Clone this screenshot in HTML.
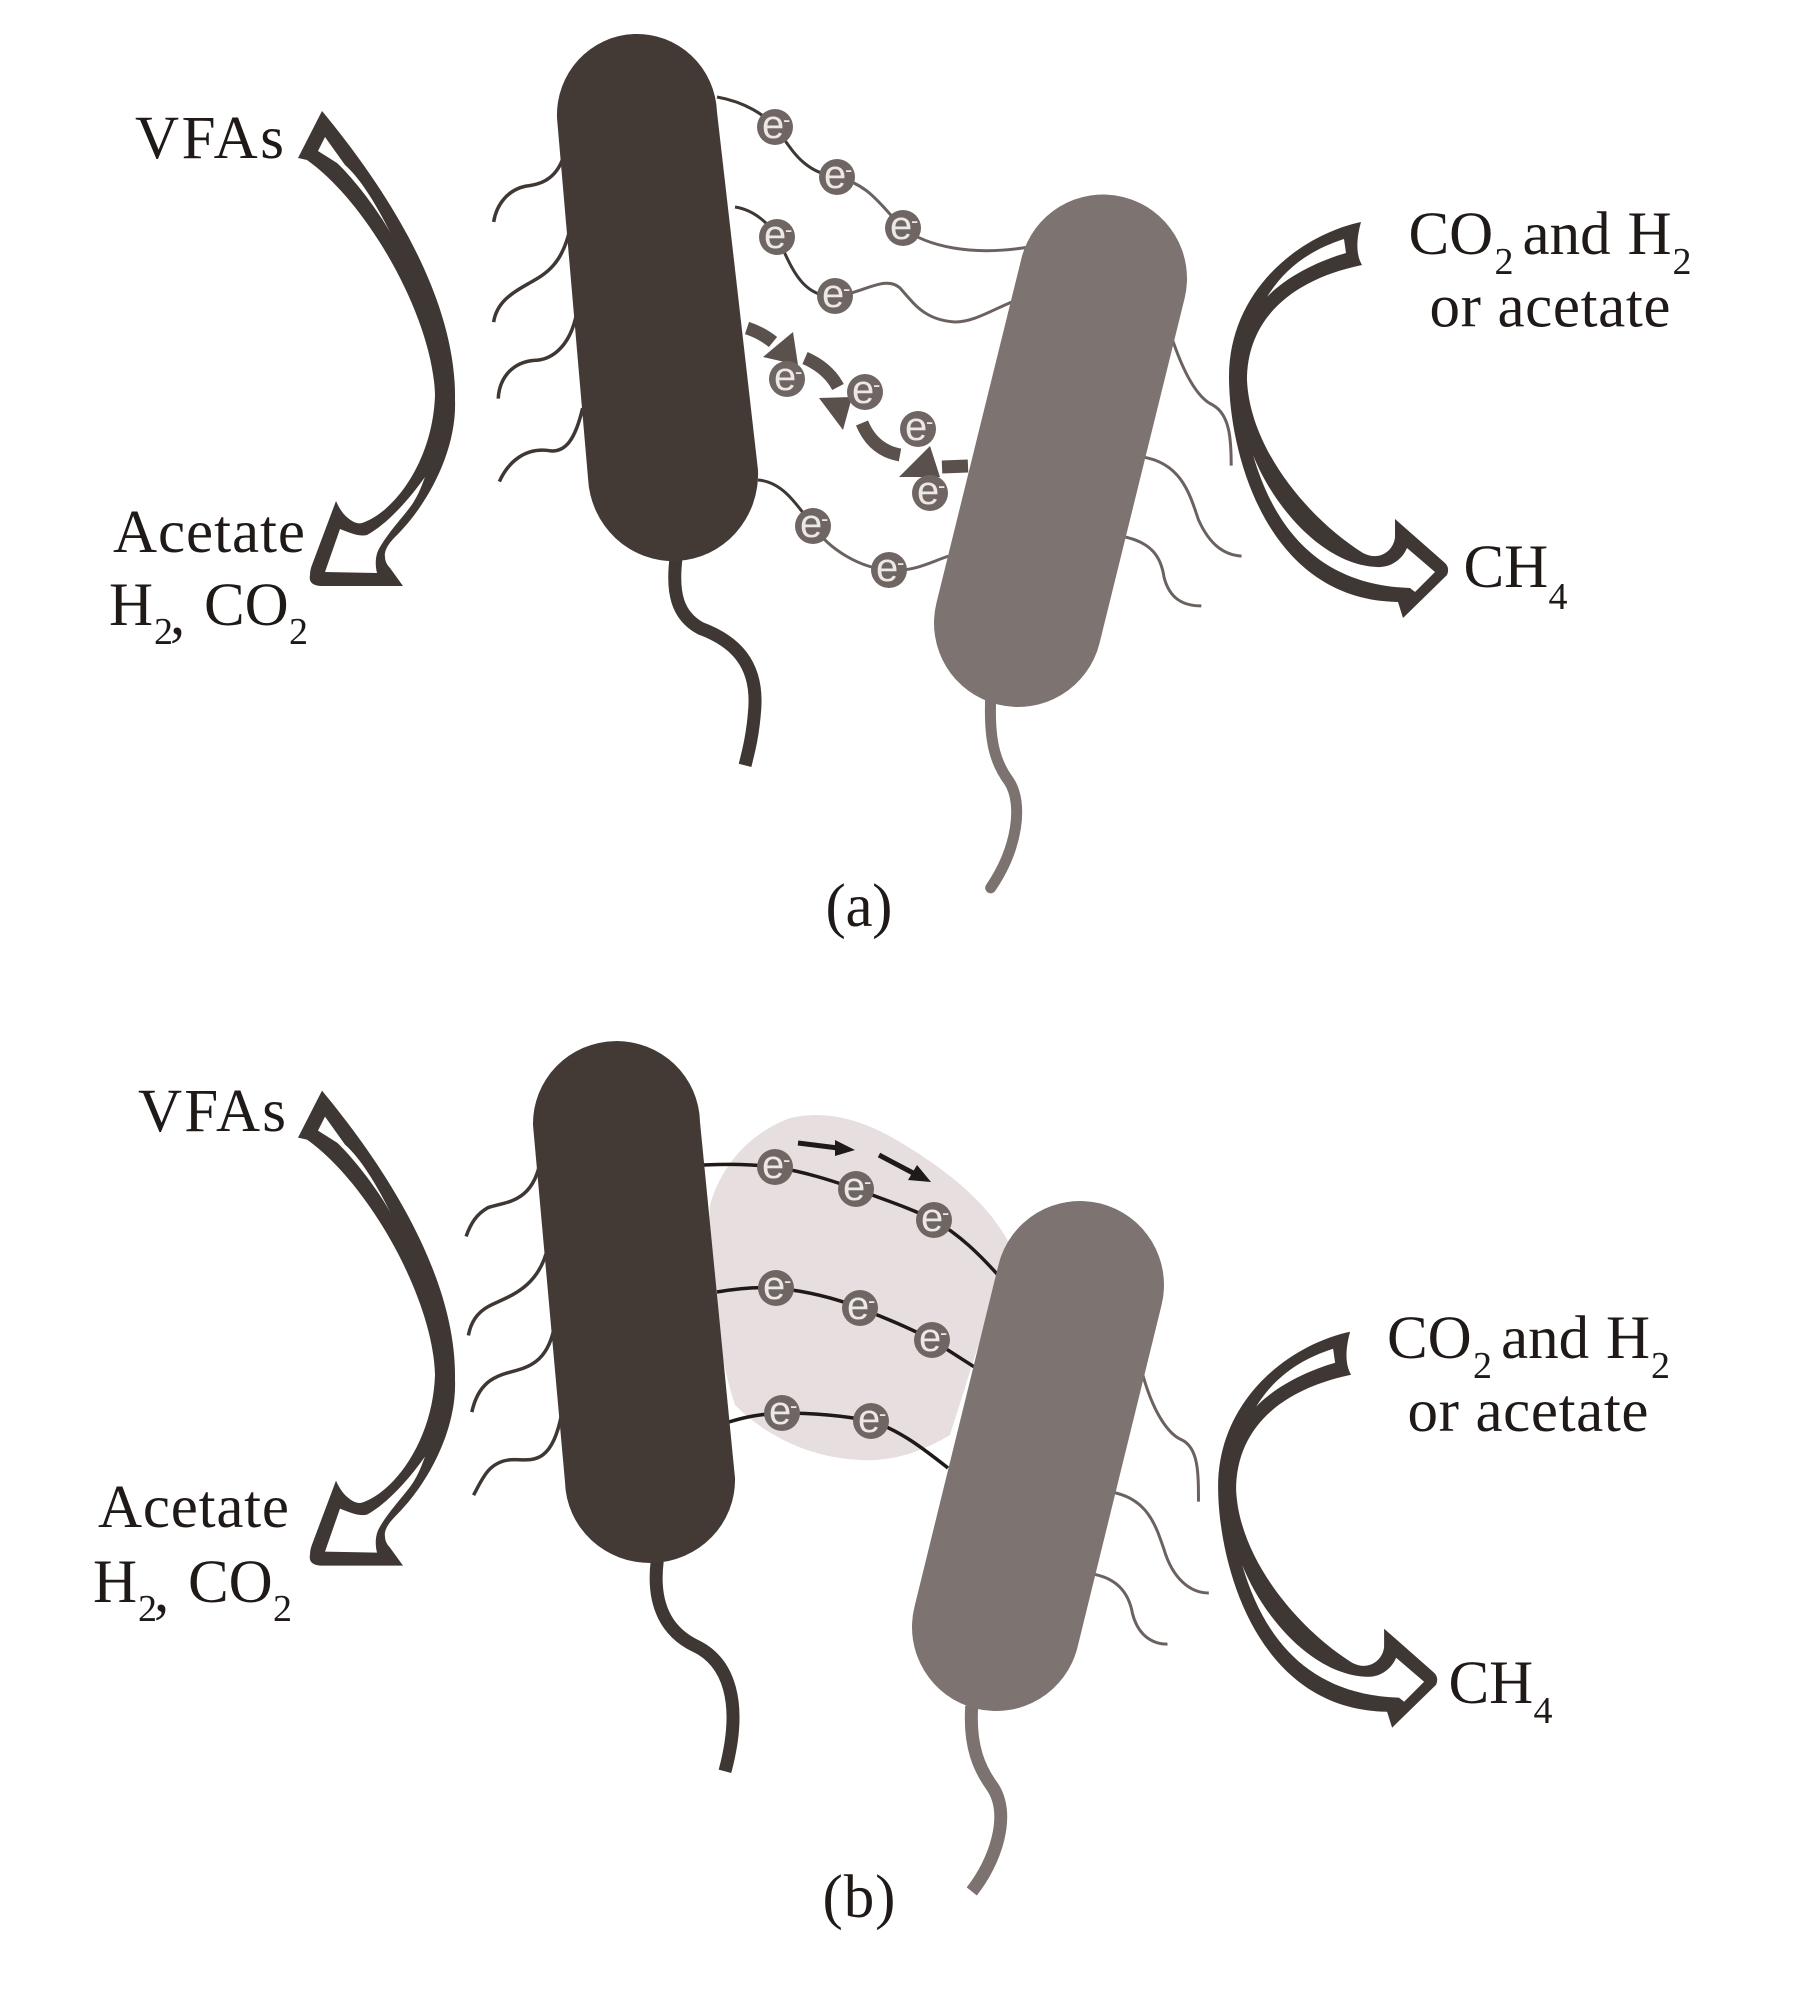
<!DOCTYPE html>
<html><head><meta charset="utf-8"><style>
html,body{margin:0;padding:0;background:#fff}
svg{display:block}
text{font-family:"Liberation Serif",serif;font-size:61px;fill:#1f1a17}
.s{font-size:38px}
.e{font-family:"Liberation Sans",sans-serif;font-size:40px;fill:#ece8e6}
.m{font-family:"Liberation Sans",sans-serif;font-size:22px;fill:#ece8e6}
path.h{fill:none;vector-effect:non-scaling-stroke}
</style></head><body>
<svg xmlns="http://www.w3.org/2000/svg" width="1800" height="2002" viewBox="0 0 1800 2002">
<rect width="1800" height="2002" fill="#fff"/>

<!-- blob -->
<path d="M710,1205 C720,1170 745,1135 790,1118 C825,1110 860,1118 900,1142 C950,1172 990,1205 1010,1245 L950,1435 C925,1450 895,1462 860,1460 C815,1458 770,1440 735,1405 C720,1360 705,1270 710,1205 Z" fill="#e7dfdf"/>

<!-- tails and flagella panel a -->
<g transform="scale(.574,.6378)" fill="none">
<path class="h" stroke="#3f3733" stroke-width="13" d="M1178,873 C1170,930 1180,965 1220,985 C1280,1005 1320,1040 1315,1110 C1312,1150 1305,1175 1298,1200"/>
<g stroke="#3f3733" stroke-width="3.5">
<path class="h" d="M982,245 C968,285 935,290 915,292 C885,298 865,320 860,348"/>
<path class="h" d="M995,350 C982,415 950,430 920,445 C890,460 865,475 860,505"/>
<path class="h" d="M1005,490 C992,550 955,565 930,565 C895,568 870,590 868,625"/>
<path class="h" d="M1015,640 C1002,690 985,708 960,707 C915,700 885,725 870,755"/>
</g></g>
<g transform="translate(900,0) scale(.574,.6378)" fill="none">
<path class="h" stroke="#7c7270" stroke-width="11" stroke-linecap="round" d="M158,1095 C155,1160 165,1195 190,1225 C215,1260 205,1330 158,1392"/>
<g stroke="#6b6260" stroke-width="3">
<path class="h" d="M470,520 C495,590 520,625 545,635 C575,650 577,690 577,730"/>
<path class="h" d="M420,716 C490,725 505,775 520,815 C540,855 565,870 595,872"/>
<path class="h" d="M387,841 C440,850 455,875 460,905 C470,940 495,950 525,950"/>
</g></g>

<!-- tails and flagella panel b -->
<g transform="translate(0,1000) scale(.574,.639)" fill="none">
<path class="h" stroke="#3f3733" stroke-width="13" d="M1145,878 C1135,950 1165,990 1210,1010 C1270,1035 1295,1100 1263,1207"/>
<g stroke="#3f3733" stroke-width="3.5">
<path class="h" d="M943,245 C930,320 880,315 850,325 C830,335 820,350 812,370"/>
<path class="h" d="M955,385 C938,455 880,465 850,480 C830,490 820,505 816,525"/>
<path class="h" d="M965,515 C948,585 895,575 865,590 C840,600 828,620 822,645"/>
<path class="h" d="M978,650 C958,740 915,715 885,720 C850,725 840,750 825,775"/>
</g></g>
<g transform="translate(900,1000) scale(.574,.639)" fill="none">
<path class="h" stroke="#7c7270" stroke-width="13" d="M125,1105 C120,1170 140,1205 160,1230 C195,1275 165,1350 125,1395"/>
<g stroke="#6b6260" stroke-width="3">
<path class="h" d="M418,570 C440,650 470,680 490,688 C520,700 520,740 520,785"/>
<path class="h" d="M368,770 C430,780 445,820 460,860 C475,905 505,928 538,928"/>
<path class="h" d="M333,898 C385,905 400,935 405,960 C415,995 440,1008 466,1008"/>
</g></g>

<!-- wires panel a -->
<g fill="none" stroke-width="3">
<path stroke="#3f3733" d="M717,97 C745,102 765,115 775,127 C790,145 800,172 837,177"/>
<path stroke="#6b6260" d="M837,177 C870,185 880,205 903,228 C925,245 970,258 1035,246"/>
<path stroke="#3f3733" d="M735,207 C755,210 770,225 777,237 C790,262 800,300 838,296"/>
<path stroke="#6b6260" d="M838,296 C865,292 885,275 900,288 C915,305 925,320 955,322 C975,322 995,308 1017,300"/>
<path stroke="#3f3733" d="M758,480 C785,482 800,510 813,526"/>
<path stroke="#6b6260" d="M813,526 C830,550 860,568 889,570 C915,572 930,562 949,556"/>
</g>
<!-- wires panel b -->
<g fill="none" stroke="#1f1a17" stroke-width="3.5">
<path d="M703,1165 C730,1164 750,1164 775,1167 C805,1172 830,1180 856,1189 C885,1200 910,1208 934,1220 C960,1235 980,1255 998,1275"/>
<path d="M717,1292 C740,1288 760,1287 776,1288 C805,1291 835,1298 860,1308 C885,1318 910,1328 932,1340 C945,1348 960,1358 976,1368"/>
<path d="M729,1422 C745,1417 760,1414 782,1413 C815,1413 845,1416 871,1421 C900,1430 925,1450 948,1468"/>
</g>

<!-- bacteria -->
<path d="M557,118 A80,81 0 0 1 717,112 L758,470 A85,87 0 0 1 588,478 Z" fill="#433a36"/>
<line x1="1103" y1="278.5" x2="1018" y2="623" stroke="#7d7472" stroke-width="168" stroke-linecap="round"/>
<path d="M533,1125 A83,82 0 0 1 700,1122 L735,1478 A85,83 0 0 1 565,1482 Z" fill="#433a36"/>
<line x1="1080" y1="1285" x2="996" y2="1627" stroke="#7d7472" stroke-width="168" stroke-linecap="round"/>

<!-- dashed arrows panel a -->
<g fill="none" stroke="#5a514d" stroke-width="13">
<path d="M747,328 Q762,333 773,342"/>
<path d="M805,358 Q828,368 838,387"/>
<path d="M862,423 Q873,450 900,455"/>
<path d="M942,467 L968,466"/>
</g>
<g fill="#5a514d">
<polygon points="793,332 798,365 763,357"/>
<polygon points="819,398 852,397 843,430"/>
<polygon points="930,446 940,477 899,477"/>
</g>

<!-- black arrows panel b -->
<path d="M798,1143 L838,1148 M879,1155 L915,1174" stroke="#1d1a18" stroke-width="5" fill="none"/>
<polygon points="835,1140 855,1150 835,1156" fill="#1d1a18"/>
<polygon points="917,1165 931,1182 908,1180" fill="#1d1a18"/>

<!-- electrons -->
<g fill="#6f6664">
<circle cx="775" cy="127" r="18"/><circle cx="837" cy="177" r="18"/><circle cx="903" cy="228" r="18"/>
<circle cx="777" cy="237" r="18"/><circle cx="835" cy="296" r="18"/>
<circle cx="813" cy="526" r="18"/><circle cx="889" cy="570" r="18"/>
<circle cx="787" cy="379" r="18"/><circle cx="865" cy="392" r="18"/><circle cx="918" cy="429" r="18"/><circle cx="930" cy="493" r="18"/>
<circle cx="775" cy="1167" r="18"/><circle cx="856" cy="1189" r="18"/><circle cx="934" cy="1220" r="18"/>
<circle cx="776" cy="1288" r="18"/><circle cx="860" cy="1308" r="18"/><circle cx="932" cy="1340" r="18"/>
<circle cx="782" cy="1413" r="18"/><circle cx="871" cy="1421" r="18"/>
</g>
<g>
<text class="e" x="762" y="138">e</text><text class="m" x="783" y="127">-</text>
<text class="e" x="824" y="188">e</text><text class="m" x="845" y="177">-</text>
<text class="e" x="890" y="239">e</text><text class="m" x="911" y="228">-</text>
<text class="e" x="764" y="248">e</text><text class="m" x="785" y="237">-</text>
<text class="e" x="822" y="307">e</text><text class="m" x="843" y="296">-</text>
<text class="e" x="800" y="537">e</text><text class="m" x="821" y="526">-</text>
<text class="e" x="876" y="581">e</text><text class="m" x="897" y="570">-</text>
<text class="e" x="774" y="390">e</text><text class="m" x="795" y="379">-</text>
<text class="e" x="852" y="403">e</text><text class="m" x="873" y="392">-</text>
<text class="e" x="905" y="440">e</text><text class="m" x="926" y="429">-</text>
<text class="e" x="917" y="504">e</text><text class="m" x="938" y="493">-</text>
<text class="e" x="762" y="1178">e</text><text class="m" x="783" y="1167">-</text>
<text class="e" x="843" y="1200">e</text><text class="m" x="864" y="1189">-</text>
<text class="e" x="921" y="1231">e</text><text class="m" x="942" y="1220">-</text>
<text class="e" x="763" y="1299">e</text><text class="m" x="784" y="1288">-</text>
<text class="e" x="847" y="1319">e</text><text class="m" x="868" y="1308">-</text>
<text class="e" x="919" y="1351">e</text><text class="m" x="940" y="1340">-</text>
<text class="e" x="769" y="1424">e</text><text class="m" x="790" y="1413">-</text>
<text class="e" x="858" y="1432">e</text><text class="m" x="879" y="1421">-</text>
</g>

<!-- left big arrows -->
<g>
<path fill="#3f3733" d="M322,111 C375,175 457,290 455,400 C457,450 428,505 395,537 C387,545 384,552 385,557 C385,562 388,566 390,568 L403,586 L320,586 Q308,585 310,575 Q310,570 312,565 L336,501 C340,510 344,515 348,518 C354,523 358,524 362,523 C395,512 433,460 435,395 C433,320 370,205 307,160 L298,158 Z"/>
<path fill="#fff" d="M325,137 L318,151 L337,163 C350,175 375,205 391,234 C378,208 362,180 345,165 Z"/>
<path fill="#fff" d="M425,477 C405,505 385,525 367,535 C360,537 350,533 340,529 L325,572 L377,573 C375,565 375,555 380,547 C390,530 405,515 413,503 C420,492 423,482 425,477 Z"/>
</g>
<g transform="translate(0,979.6)">
<path fill="#3f3733" d="M322,111 C375,175 457,290 455,400 C457,450 428,505 395,537 C387,545 384,552 385,557 C385,562 388,566 390,568 L403,586 L320,586 Q308,585 310,575 Q310,570 312,565 L336,501 C340,510 344,515 348,518 C354,523 358,524 362,523 C395,512 433,460 435,395 C433,320 370,205 307,160 L298,158 Z"/>
<path fill="#fff" d="M325,137 L318,151 L337,163 C350,175 375,205 391,234 C378,208 362,180 345,165 Z"/>
<path fill="#fff" d="M425,477 C405,505 385,525 367,535 C360,537 350,533 340,529 L325,572 L377,573 C375,565 375,555 380,547 C390,530 405,515 413,503 C420,492 423,482 425,477 Z"/>
</g>
<!-- right big arrows -->
<g>
<path fill="#3f3733" d="M1361,222 C1300,235 1229,290 1229,377 C1229,450 1265,600 1398,602 L1403,618 L1447,575 Q1450,568 1445,563 L1395,519 L1395,537 C1394,550 1380,562 1363,553 C1310,520 1250,450 1247,380 C1247,320 1290,280 1362,265 C1356,255 1356,240 1361,222 Z"/>
<path fill="#fff" d="M1344,239 L1346,253 C1315,262 1285,278 1267,297 C1285,268 1310,250 1344,239 Z"/>
<path fill="#fff" d="M1253,455 C1275,510 1325,565 1377,567 C1390,568 1402,560 1407,548 L1435,572 L1415,592 L1410,588 C1320,585 1275,530 1253,455 Z"/>
</g>
<g transform="translate(-10.9,1109.7)">
<path fill="#3f3733" d="M1361,222 C1300,235 1229,290 1229,377 C1229,450 1265,600 1398,602 L1403,618 L1447,575 Q1450,568 1445,563 L1395,519 L1395,537 C1394,550 1380,562 1363,553 C1310,520 1250,450 1247,380 C1247,320 1290,280 1362,265 C1356,255 1356,240 1361,222 Z"/>
<path fill="#fff" d="M1344,239 L1346,253 C1315,262 1285,278 1267,297 C1285,268 1310,250 1344,239 Z"/>
<path fill="#fff" d="M1253,455 C1275,510 1325,565 1377,567 C1390,568 1402,560 1407,548 L1435,572 L1415,592 L1410,588 C1320,585 1275,530 1253,455 Z"/>
</g>

<!-- labels panel a -->
<text x="135" y="158" textLength="149">VFAs</text>
<text x="113" y="552" textLength="192">Acetate</text>
<text x="109" y="625">H</text><text class="s" x="154" y="644">2</text><text x="170" y="634">,</text><text x="204" y="625">CO</text><text class="s" x="289" y="644">2</text>
<text x="1408.5" y="254">CO</text><text class="s" x="1494.5" y="274">2</text><text x="1522.5" y="254">and</text><text x="1627.5" y="254">H</text><text class="s" x="1672.5" y="274">2</text>
<text x="1429.5" y="326.5" textLength="241">or acetate</text>
<text x="1463.5" y="587">CH</text><text class="s" x="1548.5" y="609">4</text>
<text x="825.5" y="926" textLength="67">(a)</text>

<!-- labels panel b -->
<text x="138" y="1131" textLength="148">VFAs</text>
<text x="98" y="1527" textLength="191">Acetate</text>
<text x="93" y="1602">H</text><text class="s" x="138" y="1621">2</text><text x="154" y="1611">,</text><text x="188" y="1602">CO</text><text class="s" x="273" y="1621">2</text>
<text x="1387" y="1358">CO</text><text class="s" x="1473" y="1378">2</text><text x="1501" y="1358">and</text><text x="1606" y="1358">H</text><text class="s" x="1651" y="1378">2</text>
<text x="1407.5" y="1431" textLength="241">or acetate</text>
<text x="1448.5" y="1703">CH</text><text class="s" x="1533.5" y="1723">4</text>
<text x="822.5" y="1917" textLength="73">(b)</text>
</svg>
</body></html>
